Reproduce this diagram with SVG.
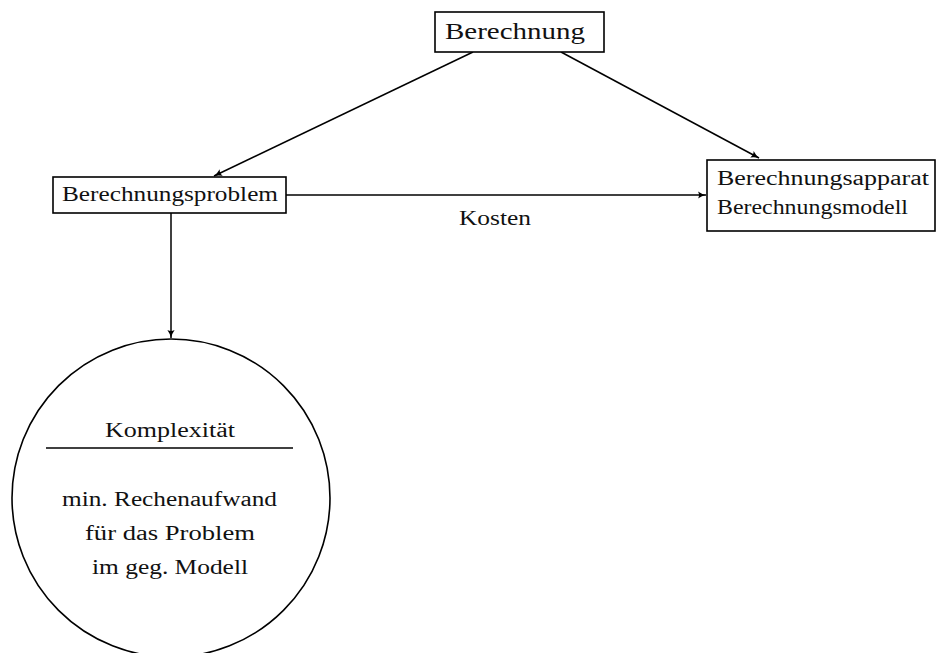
<svg xmlns="http://www.w3.org/2000/svg" width="938" height="653" viewBox="0 0 938 653">
<style>
text{font-family:"Liberation Serif","DejaVu Serif",serif;fill:#111;}
.box{fill:#fff;stroke:#000;stroke-width:1.6;}
.edge{fill:none;stroke:#000;stroke-width:1.5;}
.t{font-size:20px;}
</style>
<defs>
<marker id="arr" viewBox="0 0 10 10" refX="10" refY="5" markerWidth="8" markerHeight="8" markerUnits="userSpaceOnUse" orient="auto">
<path d="M0,0.5 Q5,4 10,5 Q5,6 0,9.5 Q2.5,5 0,0.5 z" fill="#000"/>
</marker>
</defs>
<rect width="938" height="653" fill="#fff"/>
<g id="connectors">
<line class="edge" x1="473" y1="52" x2="214" y2="176" marker-end="url(#arr)"/>
<line class="edge" x1="561" y1="52" x2="759" y2="158" marker-end="url(#arr)"/>
<line class="edge" x1="286" y1="195" x2="706" y2="195" marker-end="url(#arr)"/>
<line class="edge" x1="171" y1="213" x2="171" y2="338" marker-end="url(#arr)"/>
<text class="t" x="459" y="225" textLength="72" lengthAdjust="spacingAndGlyphs">Kosten</text>
</g>
<g id="berechnung">
<rect class="box" x="435" y="12" width="169" height="40"/>
<text x="445" y="39" style="font-size:24px" textLength="140" lengthAdjust="spacingAndGlyphs">Berechnung</text>
</g>
<g id="problem">
<rect class="box" x="53" y="177" width="233" height="36"/>
<text class="t" x="62" y="201" textLength="216" lengthAdjust="spacingAndGlyphs">Berechnungsproblem</text>
</g>
<g id="apparat">
<rect class="box" x="707" y="160" width="228" height="71"/>
<text class="t" x="717" y="185" textLength="212" lengthAdjust="spacingAndGlyphs">Berechnungsapparat</text>
<text class="t" x="717" y="214" textLength="191" lengthAdjust="spacingAndGlyphs">Berechnungsmodell</text>
</g>
<g id="komplexitaet">
<circle class="box" cx="171" cy="498" r="159"/>
<text class="t" x="105" y="437" textLength="130" lengthAdjust="spacingAndGlyphs">Komplexität</text>
<line x1="46" y1="448" x2="293" y2="448" stroke="#000" stroke-width="1.6"/>
<text class="t" x="62" y="506" textLength="215" lengthAdjust="spacingAndGlyphs">min. Rechenaufwand</text>
<text class="t" x="85" y="540" textLength="170" lengthAdjust="spacingAndGlyphs">für das Problem</text>
<text class="t" x="92" y="574" textLength="156" lengthAdjust="spacingAndGlyphs">im geg. Modell</text>
</g>
</svg>
